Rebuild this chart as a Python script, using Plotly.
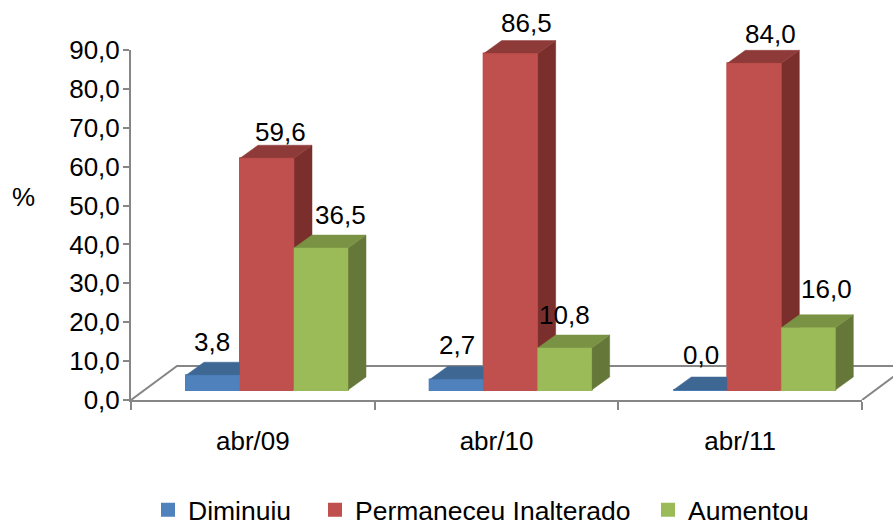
import plotly.graph_objects as go

categories = ["abr/09", "abr/10", "abr/11"]
diminuiu = [3.8, 2.7, 0.0]
permaneceu = [59.6, 86.5, 84.0]
aumentou = [36.5, 10.8, 16.0]
y_ticks = [0, 10, 20, 30, 40, 50, 60, 70, 80, 90]

W, H = 893, 524
ML, MB = 131, 124
AXIS_W, AXIS_H = 731, 350          # visible axes
FULL_W, FULL_H = W - ML, H - MB    # unclipped drawing area for the 3D faces
PX_X = AXIS_W / len(categories)    # pixels per category
PX_Y = AXIS_H / 90                 # pixels per unit

# 3D projection expressed in axis units
LIFT = 10 / PX_Y
DEPTH_X = 18 / PX_X
DEPTH_Y = 13 / PX_Y
FLOOR_X = 46 / PX_X
FLOOR_Y = 34 / PX_Y
GROUP_START = 55 / PX_X
BAR_W = 54 / PX_X

series = [
    dict(name="Diminuiu", values=diminuiu, front="#4F81BD", top="#3E6794", side="#385D8A",
         shift=[(-10, 20), (-9, 22), (-8, 22)], legend="legend"),
    dict(name="Permaneceu Inalterado", values=permaneceu, front="#C0504D", top="#8E3A38", side="#7A2F2D",
         shift=[(4, 13), (7, 18), (7, 16)], legend="legend2"),
    dict(name="Aumentou", values=aumentou, front="#9BBB59", top="#7A9243", side="#65783A",
         shift=[(10, 20), (-9, 20), (9, 26)], legend="legend3"),
]
FONT = dict(family="Liberation Sans, Arial, sans-serif", size=26, color="#000000")
LEGEND_FONT = dict(FONT, size=26.5)
AXIS = "#868686"

fig = go.Figure()

# front faces, also the legend entries
for s_i, s in enumerate(series):
    fig.add_trace(go.Bar(
        x=[g + GROUP_START + BAR_W * (s_i + 0.5) for g in range(3)],
        y=s["values"], base=LIFT, width=BAR_W, name=s["name"],
        marker=dict(color=s["front"], line=dict(color=s["front"], width=2)),
        legend=s["legend"], hoverinfo="skip",
    ))

# floor
fig.add_trace(go.Scatter(
    x=[0, FLOOR_X, 3 + FLOOR_X, 3],
    y=[0, FLOOR_Y, FLOOR_Y, 0],
    xaxis="x2", yaxis="y2",
    mode="lines", line=dict(color=AXIS, width=2),
    showlegend=False, hoverinfo="skip",
))


def face(xs, ys, color):
    fig.add_trace(go.Scatter(
        x=xs, y=ys, xaxis="x2", yaxis="y2", mode="lines", fill="toself", fillcolor=color,
        line=dict(color=color, width=0.5),
        showlegend=False, hoverinfo="skip",
    ))


# painter's order: left to right in every group
annotations = []
for g in range(3):
    for s_i, s in enumerate(series):
        v = s["values"][g]
        x0 = g + GROUP_START + BAR_W * s_i
        x1 = x0 + BAR_W
        b = LIFT
        t = LIFT + v
        face([x1, x1 + DEPTH_X, x1 + DEPTH_X, x1, x1],
             [b, b + DEPTH_Y, t + DEPTH_Y, t, b], s["side"])
        face([x0, x1, x1 + DEPTH_X, x0 + DEPTH_X, x0],
             [t, t, t + DEPTH_Y, t + DEPTH_Y, t], s["top"])
        if v > 0:
            face([x0, x1, x1, x0, x0], [b, b, t, t, b], s["front"])
        dx, dy = s["shift"][g]
        annotations.append(dict(
            x=(x0 + x1 + DEPTH_X) / 2, y=t + DEPTH_Y, xref="x2", yref="y2",
            text=f"{v:.1f}".replace(".", ","), showarrow=False,
            xshift=dx, yshift=dy, font=FONT, xanchor="center", yanchor="middle",
        ))

annotations.append(dict(
    x=(23 - ML) / FULL_W, y=(H - MB - 197) / FULL_H,
    xref="paper", yref="paper", text="%", showarrow=False, font=FONT,
    xanchor="center", yanchor="middle",
))


def legend_at(px):
    return dict(
        x=(px - ML) / FULL_W, y=(H - MB - 486) / FULL_H,
        xanchor="left", yanchor="top", orientation="h", font=LEGEND_FONT,
        bgcolor="rgba(0,0,0,0)", borderwidth=0, itemwidth=30, maxheight=60,
        itemclick=False, itemdoubleclick=False,
    )


fig.update_layout(
    width=W, height=H, autosize=False,
    margin=dict(l=ML, r=0, t=0, b=MB, autoexpand=False),
    paper_bgcolor="white", plot_bgcolor="rgba(0,0,0,0)",
    barmode="overlay", separators=",.", font=FONT,
    annotations=annotations,
    legend=legend_at(148), legend2=legend_at(315), legend3=legend_at(648),
    xaxis=dict(
        domain=[0, AXIS_W / FULL_W], anchor="y",
        range=[0, 3], tickmode="array", tickvals=[0.5, 1.5, 2.5], ticktext=categories,
        ticks="", showline=True, linecolor=AXIS, linewidth=2, showgrid=False,
        zeroline=False, ticklabelstandoff=17, tickfont=FONT,
        minor=dict(tickmode="array", tickvals=[0, 1, 2, 3], ticks="outside",
                   ticklen=8, tickwidth=2, tickcolor=AXIS, showgrid=False),
    ),
    yaxis=dict(
        domain=[0, AXIS_H / FULL_H], anchor="x",
        range=[0, 90], tickmode="array", tickvals=y_ticks, tickformat=".1f",
        ticks="outside", ticklen=6, tickwidth=2, tickcolor=AXIS,
        showline=True, linecolor=AXIS, linewidth=2, showgrid=False,
        zeroline=False, tickfont=FONT, ticklabelstandoff=-2,
    ),
    xaxis2=dict(domain=[0, 1], anchor="y2", range=[0, FULL_W / PX_X], visible=False),
    yaxis2=dict(domain=[0, 1], anchor="x2", range=[0, FULL_H / PX_Y], visible=False),
)

fig.write_html(
    "out.html", config=dict(displayModeBar=False),
    post_script="document.body.style.margin='0';document.body.style.overflow='hidden';",
)
